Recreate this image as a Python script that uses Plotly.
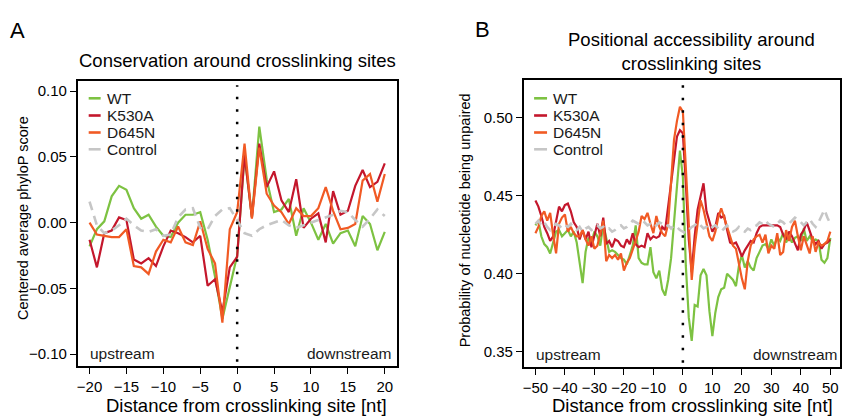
import plotly.graph_objects as go

# ---------------- data ----------------
pos_a = list(range(-20, 21))
wt_a = [-0.018, -0.005, 0.001, 0.020, 0.028, 0.025, 0.011, 0.003, 0.006, -0.003,
        -0.010, -0.011, 0.000, 0.006, 0.006, 0.008, -0.013, -0.041, -0.073, -0.048,
        -0.025, 0.051, 0.004, 0.073, 0.033, 0.008, 0.010, 0.018, -0.010, 0.011,
        0.000, -0.013, -0.001, -0.016, -0.008, -0.006, -0.018, 0.005, -0.001, -0.021,
        -0.007]
k530a_a = [-0.013, -0.034, -0.008, -0.006, 0.004, 0.002, -0.028, -0.031, -0.027, -0.033,
           -0.018, -0.006, -0.008, -0.011, -0.015, -0.010, -0.048, -0.043, -0.068, -0.034,
           -0.026, 0.052, 0.004, 0.060, 0.027, 0.039, 0.017, 0.008, 0.033, -0.004,
           0.003, 0.007, -0.015, 0.024, 0.006, 0.009, 0.028, 0.040, 0.027, 0.031,
           0.045]
d645n_a = [0.000, -0.009, -0.010, -0.011, -0.011, -0.005, -0.033, -0.034, -0.039, -0.022,
           -0.013, -0.015, -0.003, -0.015, -0.017, 0.001, -0.020, -0.031, -0.076, -0.005,
           0.008, 0.060, 0.003, 0.057, 0.022, 0.013, 0.008, -0.001, 0.011, 0.005,
           0.005, 0.011, 0.027, 0.009, -0.005, -0.004, -0.001, 0.032, 0.037, 0.016,
           0.037]
control_a = [0.016, -0.002, -0.008, -0.006, -0.002, 0.003, -0.002, -0.006, -0.007, -0.005,
             -0.010, -0.009, 0.004, 0.010, 0.011, -0.004, -0.005, 0.005, 0.010, 0.011,
             0.002, -0.008, -0.010, -0.005, -0.002, 0.000, 0.002, -0.002, -0.004, -0.002,
             0.000, 0.002, 0.004, 0.006, 0.009, 0.008, 0.002, -0.003, 0.003, 0.010,
             0.005]

pos_b = list(range(-50, 51))
wt_b = [0.431, 0.434, 0.424, 0.419, 0.417, 0.413, 0.420, 0.427, 0.428, 0.424,
        0.426, 0.428, 0.424, 0.427, 0.420, 0.408, 0.394, 0.414, 0.423, 0.420,
        0.427, 0.424, 0.418, 0.432, 0.422, 0.414, 0.415, 0.414, 0.412, 0.410,
        0.409, 0.406, 0.412, 0.418, 0.431, 0.410, 0.407, 0.406, 0.406, 0.417,
        0.401, 0.397, 0.402, 0.390, 0.386, 0.396, 0.410, 0.432, 0.458, 0.479,
        0.462, 0.405, 0.372, 0.357, 0.380, 0.379, 0.399, 0.403, 0.399, 0.376,
        0.360, 0.375, 0.385, 0.390, 0.391, 0.400, 0.398, 0.396, 0.392, 0.405,
        0.412, 0.404, 0.408, 0.404, 0.402, 0.410, 0.414, 0.418, 0.419, 0.416,
        0.422, 0.418, 0.423, 0.421, 0.426, 0.420, 0.424, 0.420, 0.423, 0.424,
        0.421, 0.429, 0.421, 0.424, 0.421, 0.422, 0.421, 0.409, 0.407, 0.410,
        0.423]
k530a_b = [0.447, 0.443, 0.437, 0.430, 0.426, 0.421, 0.424, 0.434, 0.443, 0.440,
           0.444, 0.445, 0.440, 0.433, 0.430, 0.422, 0.428, 0.422, 0.427, 0.417,
           0.424, 0.432, 0.424, 0.436, 0.419, 0.421, 0.417, 0.422, 0.421, 0.418,
           0.417, 0.422, 0.419, 0.426, 0.419, 0.417, 0.418, 0.417, 0.426, 0.422,
           0.424, 0.423, 0.424, 0.430, 0.428, 0.443, 0.460, 0.475, 0.488, 0.492,
           0.490, 0.458, 0.422, 0.401, 0.424, 0.441, 0.449, 0.458, 0.440, 0.433,
           0.427, 0.430, 0.439, 0.436, 0.437, 0.428, 0.420, 0.419, 0.420, 0.416,
           0.411, 0.415, 0.418, 0.421, 0.420, 0.426, 0.430, 0.431, 0.431, 0.431,
           0.431, 0.431, 0.431, 0.430, 0.425, 0.422, 0.427, 0.424, 0.420, 0.415,
           0.425, 0.428, 0.433, 0.427, 0.422, 0.419, 0.421, 0.416, 0.419, 0.420,
           0.422]
d645n_b = [0.426, 0.430, 0.437, 0.440, 0.434, 0.439, 0.425, 0.413, 0.432, 0.436,
           0.438, 0.427, 0.430, 0.426, 0.424, 0.424, 0.428, 0.422, 0.418, 0.424,
           0.416, 0.418, 0.426, 0.434, 0.408, 0.412, 0.410, 0.412, 0.409, 0.413,
           0.402, 0.407, 0.410, 0.415, 0.421, 0.427, 0.437, 0.435, 0.439, 0.432,
           0.426, 0.437, 0.430, 0.426, 0.424, 0.432, 0.460, 0.486, 0.498, 0.507,
           0.504, 0.470, 0.430, 0.396, 0.417, 0.434, 0.447, 0.441, 0.432, 0.424,
           0.421, 0.427, 0.436, 0.442, 0.436, 0.430, 0.424, 0.418, 0.416, 0.406,
           0.397, 0.390, 0.408, 0.418, 0.422, 0.424, 0.425, 0.420, 0.425, 0.413,
           0.418, 0.416, 0.426, 0.412, 0.414, 0.428, 0.421, 0.430, 0.434, 0.424,
           0.415, 0.424, 0.418, 0.413, 0.424, 0.414, 0.420, 0.418, 0.419, 0.421,
           0.427]
control_b = [0.432, 0.434, 0.431, 0.433, 0.430, 0.428, 0.430, 0.432, 0.431, 0.429,
             0.431, 0.430, 0.432, 0.429, 0.428, 0.430, 0.427, 0.429, 0.430, 0.428,
             0.429, 0.431, 0.429, 0.430, 0.428, 0.429, 0.427, 0.428, 0.430, 0.431,
             0.429, 0.430, 0.432, 0.434, 0.433, 0.432, 0.434, 0.433, 0.431, 0.432,
             0.430, 0.431, 0.433, 0.432, 0.430, 0.431, 0.429, 0.431, 0.430, 0.428,
             0.427, 0.426, 0.428, 0.430, 0.431, 0.433, 0.431, 0.429, 0.430, 0.428,
             0.430, 0.431, 0.429, 0.427, 0.429, 0.431, 0.428, 0.427, 0.428, 0.430,
             0.428, 0.427, 0.429, 0.428, 0.430, 0.431, 0.433, 0.432, 0.434, 0.432,
             0.431, 0.430, 0.432, 0.434, 0.433, 0.431, 0.432, 0.434, 0.436, 0.435,
             0.433, 0.431, 0.433, 0.435, 0.432, 0.430, 0.433, 0.437, 0.441, 0.436,
             0.432]

series_names = ["WT", "K530A", "D645N", "Control"]
ticks_a_x = [-20, -15, -10, -5, 0, 5, 10, 15, 20]
ticks_a_y = [-0.10, -0.05, 0.00, 0.05, 0.10]
ticks_b_x = [-50, -40, -30, -20, -10, 0, 10, 20, 30, 40, 50]
ticks_b_y = [0.35, 0.40, 0.45, 0.50]

# ---------------- style ----------------
W, H = 842, 417
FONT = "Liberation Sans, Arial, Helvetica, sans-serif"
TXT = "#1a1a1a"
colors = {"WT": "#7DC242", "K530A": "#C4172C", "D645N": "#F15A24", "Control": "#C6C6C6"}
widths = {"WT": 2.2, "K530A": 2.2, "D645N": 2.2, "Control": 2.6}
dashes = {"WT": "solid", "K530A": "solid", "D645N": "solid", "Control": "9px,6px"}

fig = go.Figure()
data_a = [wt_a, k530a_a, d645n_a, control_a]
data_b = [wt_b, k530a_b, d645n_b, control_b]
for name, ya in zip(series_names, data_a):
    fig.add_trace(go.Scatter(x=pos_a, y=ya, mode="lines", name=name, showlegend=False,
                             xaxis="x", yaxis="y",
                             line=dict(color=colors[name], width=widths[name], dash=dashes[name])))
for name, yb in zip(series_names, data_b):
    fig.add_trace(go.Scatter(x=pos_b, y=yb, mode="lines", name=name, showlegend=False,
                             xaxis="x2", yaxis="y2",
                             line=dict(color=colors[name], width=widths[name], dash=dashes[name])))

axis_common = dict(showline=True, linecolor="black", linewidth=1.5, mirror=True,
                   ticks="outside", ticklen=6, tickwidth=1.3, tickcolor="black",
                   showgrid=False, zeroline=False, tickangle=0,
                   tickfont=dict(family=FONT, size=15, color="black"))

fig.update_layout(
    width=W, height=H, margin=dict(l=0, r=0, t=0, b=0),
    paper_bgcolor="white", plot_bgcolor="white",
    xaxis=dict(domain=[77 / W, 397 / W], range=[-21.6, 21.6], tickvals=ticks_a_x,
               anchor="y", **axis_common),
    yaxis=dict(domain=[1 - 366 / H, 1 - 81 / H], range=[-0.109, 0.1077], tickvals=ticks_a_y,
               tickformat=".2f", anchor="x", **axis_common),
    xaxis2=dict(domain=[524.5 / W, 1.0], range=[-54, 53.28], tickvals=ticks_b_x,
                anchor="y2", **axis_common),
    yaxis2=dict(domain=[1 - 367 / H, 1 - 80 / H], range=[0.3402, 0.5242], tickvals=ticks_b_y,
                tickformat=".2f", anchor="x2", **axis_common),
)

shapes = []
annotations = []

# dotted vertical lines at the crosslinking site
for xr, yr in (("x", "y domain"), ("x2", "y2 domain")):
    shapes.append(dict(type="line", xref=xr, yref=yr, x0=0, x1=0, y0=0.015, y1=0.985,
                       line=dict(color="black", width=2.5, dash="2.5px,10px")))

# manual legends
legend_rows = [98.3, 115.5, 132.5, 149.3]
for lx0, lx1, tx in ((88, 100, 104), (535, 548, 552)):
    for name, ry in zip(series_names, legend_rows):
        shapes.append(dict(type="line", xref="paper", yref="paper",
                           x0=lx0 / W, x1=lx1 / W, y0=1 - ry / H, y1=1 - ry / H,
                           line=dict(color=colors[name], width=2.6)))
        annotations.append(dict(text=name, xref="paper", yref="paper", x=tx / W, y=1 - ry / H,
                                xanchor="left", yanchor="middle", showarrow=False,
                                font=dict(family=FONT, size=15.5, color=TXT)))

# upstream / downstream
for xr, yr, xl, xrgt in (("x domain", "y domain", 0.031, 0.988), ("x2 domain", "y2 domain", 0.034, 0.998)):
    annotations.append(dict(text="upstream", xref=xr, yref=yr, x=xl, y=0.045,
                            xanchor="left", yanchor="middle", showarrow=False,
                            font=dict(family=FONT, size=15.5, color=TXT)))
    annotations.append(dict(text="downstream", xref=xr, yref=yr, x=xrgt, y=0.045,
                            xanchor="right", yanchor="middle", showarrow=False,
                            font=dict(family=FONT, size=15.5, color=TXT)))

def ann(text, x, y, size, angle=0, xanchor="center"):
    annotations.append(dict(text=text, xref="paper", yref="paper", x=x / W, y=1 - y / H,
                            xanchor=xanchor, yanchor="middle", showarrow=False, textangle=angle,
                            font=dict(family=FONT, size=size, color="black")))

ann("A", 17, 30, 22)
ann("B", 483, 29, 22)
ann("Conservation around crosslinking sites", 237, 60, 18.5)
ann("Positional accessibility around<br>crosslinking sites", 693, 51, 18.5)
ann("Distance from crosslinking site [nt]", 246, 405, 18.5)
ann("Distance from crosslinking site [nt]", 694, 405, 18.5)
ann("Centered average phyloP score", 22, 218, 14.5, angle=-90)
ann("Probability of nucleotide being unpaired", 466, 220, 14.5, angle=-90)

fig.update_layout(shapes=shapes, annotations=annotations)
fig.write_html("out.html")
